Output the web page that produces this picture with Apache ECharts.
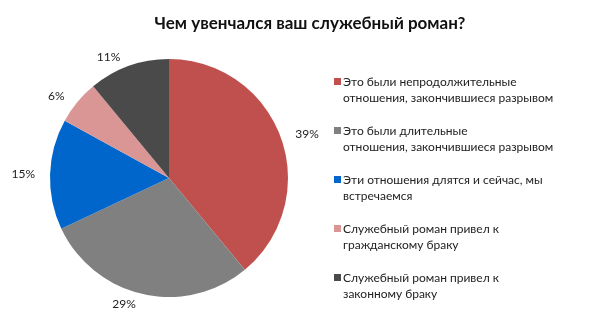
<!DOCTYPE html>
<html><head><meta charset="utf-8">
<script src="https://cdn.jsdelivr.net/npm/echarts@6/dist/echarts.min.js"></script>
<style>html,body{margin:0;padding:0;background:#fff}#c{width:600px;height:329px}</style>
</head><body><div id="c"></div>
<script>
const categories = [
  "Это были непродолжительные\nотношения, закончившиеся разрывом",
  "Это были длительные\nотношения, закончившиеся разрывом",
  "Эти отношения длятся и сейчас, мы\nвстречаемся",
  "Служебный роман привел к\nгражданскому браку",
  "Служебный роман привел к\nзаконному браку"
];
const values = [39, 29, 15, 6, 11];
const colors = ["#C0504D", "#808080", "#0066CC", "#D99694", "#4A4A4A"];
const titleText = "Чем увенчался ваш служебный роман?";

const chart = echarts.init(document.getElementById('c'));
chart.setOption({
  animation: false,
  title: {
    text: titleText, left: 305, top: 10, textAlign: 'center',
    textStyle: {fontFamily: 'Lato', fontWeight: 'bold', fontSize: 17, color: '#111'}
  },
  legend: {
    orient: 'vertical', left: 329, top: 69,
    itemWidth: 7, itemHeight: 32, itemGap: 17,
    icon: 'path://M0,0L0.01,0L0,0.01Z M0,4L7,4L7,11L0,11Z M0,32L0.01,32L0,31.99Z',
    textStyle: {fontFamily: 'Lato', fontSize: 12, color: '#222', lineHeight: 16, padding: [0,0,0,-3]},
    data: categories
  },
  series: [{
    type: 'pie', center: [169, 178], radius: 119, startAngle: 90, clockwise: true,
    data: categories.map((n, i) => ({name: n, value: values[i], itemStyle: {color: colors[i]}})),
    itemStyle: {borderColor: '#fff', borderWidth: 0},
    label: {show: true, position: 'outside', formatter: '{d}%', fontFamily: 'Lato', fontSize: 12, color: '#222', overflow: 'none', bleedMargin: 0},
    labelLine: {show: false, length: 10, length2: 0}
  }]
});
</script></body></html>
